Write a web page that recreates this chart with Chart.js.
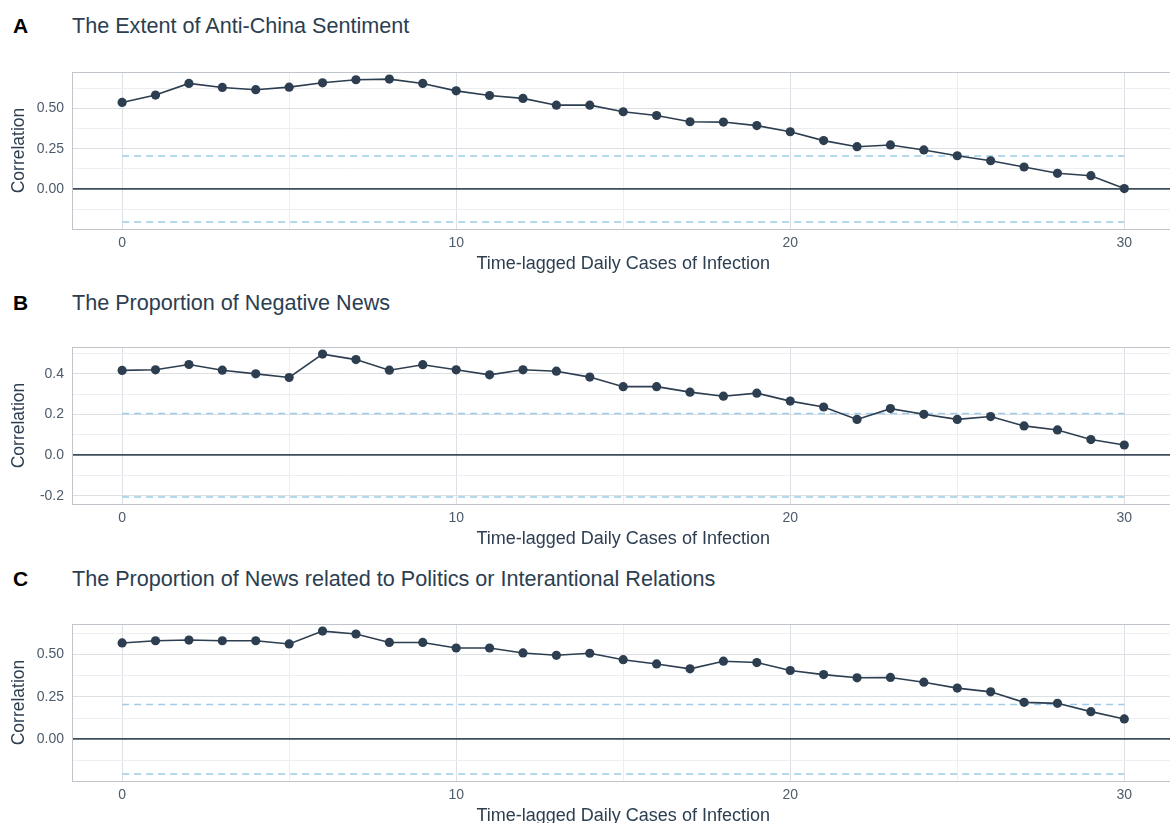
<!DOCTYPE html>
<html>
<head>
<meta charset="utf-8">
<script src="https://cdn.jsdelivr.net/npm/chart.js@4.4.1/dist/chart.umd.min.js"></script>
<style>
  html, body { margin: 0; padding: 0; background: #fff; }
  body { width: 1170px; height: 823px; overflow: hidden; position: relative;
         font-family: "Liberation Sans", Arial, sans-serif; }
  .letra { position: absolute; left: 13px; font-size: 21px; line-height: 1; font-weight: bold; color: #000; }
  .titulo { position: absolute; left: 72px; font-size: 21.6px; line-height: 1; color: #2c3e50; }
  canvas { position: absolute; left: 0; }
</style>
</head>
<body>
<div class="letra" style="top:15px">A</div>
<div class="titulo" style="top:15px">The Extent of Anti-China Sentiment</div>
<canvas id="graf-a" width="1179" height="229" style="top:50px"></canvas>

<div class="letra" style="top:292px">B</div>
<div class="titulo" style="top:292px">The Proportion of Negative News</div>
<canvas id="graf-b" width="1179" height="229" style="top:325px"></canvas>

<div class="letra" style="top:568px">C</div>
<div class="titulo" style="top:568px">The Proportion of News related to Politics or Interantional Relations</div>
<canvas id="graf-c" width="1179" height="229" style="top:602px"></canvas>

<script>
// defasagens (dias) e valores
const LAGS = [0, 1, 2, 3, 4, 5, 6, 7, 8, 9, 10, 11, 12, 13, 14, 15, 16, 17, 18, 19, 20,
              21, 22, 23, 24, 25, 26, 27, 28, 29, 30];

const SENTIMENTO = [0.537, 0.583, 0.655, 0.630, 0.616, 0.632, 0.659, 0.678, 0.682, 0.655, 0.609,
                    0.580, 0.562, 0.520, 0.520, 0.479, 0.456, 0.417, 0.415, 0.393, 0.355,
                    0.300, 0.262, 0.273, 0.242, 0.206, 0.175, 0.136, 0.097, 0.082, 0.002];

const NEGATIVAS = [0.417, 0.420, 0.446, 0.418, 0.400, 0.382, 0.497, 0.470, 0.418, 0.445, 0.420,
                   0.395, 0.420, 0.413, 0.384, 0.337, 0.337, 0.310, 0.290, 0.305, 0.266,
                   0.237, 0.176, 0.229, 0.201, 0.176, 0.190, 0.144, 0.124, 0.077, 0.050];

const POLITICA = [0.569, 0.582, 0.586, 0.582, 0.582, 0.563, 0.639, 0.622, 0.572, 0.572, 0.539,
                  0.539, 0.510, 0.496, 0.508, 0.470, 0.445, 0.416, 0.461, 0.453, 0.406,
                  0.382, 0.363, 0.365, 0.337, 0.302, 0.280, 0.218, 0.212, 0.163, 0.120];

const LIMITE_IC = 0.205; // banda de significância (tracejada)

const X_TICKS = [0, 5, 10, 15, 20, 25, 30];
const X_ROTULADOS = [0, 10, 20, 30];
const X_MIN = -1.5, X_MAX = 31.5;

const Y_TICKS_A = [-0.125, 0, 0.125, 0.25, 0.375, 0.5, 0.625];
const Y_ROT_A = [0, 0.25, 0.5];
const Y_TICKS_B = [-0.2, -0.1, 0, 0.1, 0.2, 0.3, 0.4, 0.5];
const Y_ROT_B = [-0.2, 0, 0.2, 0.4];
const Y_TICKS_C = [-0.125, 0, 0.125, 0.25, 0.375, 0.5, 0.625];
const Y_ROT_C = [0, 0.25, 0.5];

const ESCURO = '#2c3e50', AZUL_CLARO = '#9fcbe8', TEXTO = '#4d5b6a',
      GRADE = '#dcdfe4', GRADE_MENOR = '#eceef1', MOLDURA = '#c0c5cc', ZERO = '#3e4d5e';

const temValor = (lista, v) => lista.some((x) => Math.abs(x - v) < 1e-9);

// moldura do painel (estilo ggplot)
const moldura = {
  id: 'moldura',
  afterDraw(chart) {
    const { ctx, chartArea: a } = chart;
    ctx.save();
    ctx.strokeStyle = MOLDURA;
    ctx.lineWidth = 1;
    ctx.strokeRect(a.left + 0.5, a.top + 0.5, a.right - a.left, a.bottom - a.top);
    ctx.restore();
  },
};

function montarPainel(id, valores, yMin, yMax, yTicks, yRotulados, casas) {
  const pontos = LAGS.map((x, i) => ({ x, y: valores[i] }));
  const faixa = (v) => [{ x: LAGS[0], y: v }, { x: LAGS[LAGS.length - 1], y: v }];

  return new Chart(document.getElementById(id), {
    type: 'line',
    data: {
      datasets: [
        { data: pontos, borderColor: ESCURO, backgroundColor: ESCURO, borderWidth: 1.6,
          pointRadius: 4.6, pointHoverRadius: 4.6, pointBorderWidth: 0, tension: 0 },
        { data: faixa(LIMITE_IC), borderColor: AZUL_CLARO, borderWidth: 1.5,
          borderDash: [7, 5], pointRadius: 0 },
        { data: faixa(-LIMITE_IC), borderColor: AZUL_CLARO, borderWidth: 1.5,
          borderDash: [7, 5], pointRadius: 0 },
      ],
    },
    options: {
      responsive: false, animation: false, events: [],
      layout: { padding: { top: 22, left: 0, right: 0, bottom: 0 } },
      plugins: { legend: { display: false }, tooltip: { enabled: false } },
      scales: {
        x: {
          type: 'linear', min: X_MIN, max: X_MAX,
          afterBuildTicks: (s) => { s.ticks = X_TICKS.map((v) => ({ value: v })); },
          afterFit: (s) => { s.height = 50; },
          border: { display: false },
          grid: { drawTicks: false,
                  color: (c) => temValor(X_ROTULADOS, c.tick.value) ? GRADE : GRADE_MENOR },
          ticks: { padding: 6, color: TEXTO, font: { size: 14, family: 'Liberation Sans' },
                   maxRotation: 0, autoSkip: false,
                   callback: (v) => temValor(X_ROTULADOS, v) ? String(v) : '' },
          title: { display: true, text: 'Time-lagged Daily Cases of Infection', color: ESCURO,
                   font: { size: 18, family: 'Liberation Sans' }, padding: { top: 0, bottom: 4 } },
        },
        y: {
          min: yMin, max: yMax,
          afterBuildTicks: (s) => { s.ticks = yTicks.map((v) => ({ value: v })); },
          afterFit: (s) => { s.width = 72; },
          border: { display: false },
          grid: { drawTicks: false,
                  color: (c) => c.tick.value === 0 ? ZERO
                    : (temValor(yRotulados, c.tick.value) ? GRADE : GRADE_MENOR),
                  lineWidth: (c) => c.tick.value === 0 ? 1.8 : 1 },
          ticks: { padding: 8, color: TEXTO, font: { size: 14, family: 'Liberation Sans' },
                   autoSkip: false,
                   callback: (v) => temValor(yRotulados, v) ? Number(v).toFixed(casas) : '' },
          title: { display: true, text: 'Correlation', color: ESCURO,
                   font: { size: 17.5, family: 'Liberation Sans' }, padding: { top: 9, bottom: 0 } },
        },
      },
    },
    plugins: [moldura],
  });
}

montarPainel('graf-a', SENTIMENTO, -0.249, 0.726, Y_TICKS_A, Y_ROT_A, 2);
montarPainel('graf-b', NEGATIVAS, -0.240, 0.532, Y_TICKS_B, Y_ROT_B, 1);
montarPainel('graf-c', POLITICA, -0.247, 0.681, Y_TICKS_C, Y_ROT_C, 2);
</script>
</body>
</html>
